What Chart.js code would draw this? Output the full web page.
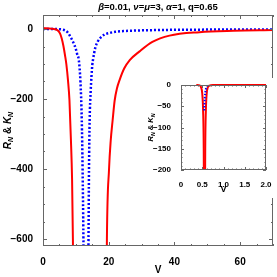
<!DOCTYPE html>
<html>
<head>
<meta charset="utf-8">
<script src="https://cdn.jsdelivr.net/npm/chart.js@4.4.1/dist/chart.umd.min.js"></script>
<style>
  body { margin: 0; background: #fff; }
  #wrap { position: relative; width: 277px; height: 277px; }
  #main { position: absolute; left: 0; top: 0; }
  #inset { position: absolute; left: 146px; top: 78px; background: #fff; }
</style>
</head>
<body>
<div id="wrap">
  <canvas id="main" width="277" height="277"></canvas>
  <canvas id="inset" width="128" height="120"></canvas>
</div>
<script>
// ---------------- data ----------------
// main plot, red solid (two branches around the pole)
var redLeftV  = [0, 1, 2, 3, 4, 4.6, 5.2, 5.7, 6.2, 6.7, 7.1, 7.6, 8.05, 8.5, 8.85, 9.1, 9.3];
var redLeftR  = [2, 2, 1.5, 0.5, -1.5, -5, -13, -27, -48, -75, -100, -146, -203, -317, -431, -600, -800];
var redRightV = [19.3, 19.45, 20.1, 20.6, 21.2, 21.8, 22.5, 23.3, 24.7, 26.4, 29.4, 33.3, 38.5, 47.6, 58, 70];
var redRightR = [-800, -600, -400, -320, -260, -205, -170, -146, -113, -89, -64, -37, -19, -9, -5, -3];
// main plot, blue dotted
var blueLeftV  = [0, 3, 5, 6, 6.9, 7.7, 8.4, 9.2, 9.9, 10.4, 10.9, 11.4, 11.8, 12.05, 12.3, 12.45];
var blueLeftR  = [0, 0, -0.5, -2, -5, -12, -23, -38, -54, -72, -89, -151, -260, -400, -600, -800];
var blueRightV = [13.65, 13.85, 14.0, 14.2, 14.5, 15.0, 15.2, 15.9, 16.6, 17.4, 18.5, 20.4, 22, 24.4, 28, 34.6, 45, 58, 70];
var blueRightR = [-800, -600, -400, -260, -180, -103, -89, -54, -37, -26, -17, -11, -8, -6, -4.5, -3, -2, -1.5, -1.2];
// inset
var insetRedLeftV  = [0.36, 0.44, 0.47, 0.5, 0.52, 0.535, 0.54];
var insetRedLeftR  = [0, -1, -5, -20, -60, -150, -260];
var insetRedRightV = [0.565, 0.57, 0.585, 0.605, 0.63, 0.67, 0.75, 2];
var insetRedRightR = [-260, -150, -60, -20, -6, -1.5, 0, 0];
var insetBlueV = [0.545, 0.56, 0.58, 0.6, 0.63, 0.66];
var insetBlueR = [-60, -30, -12, -5, -1, 0];

var mainXTicks = [0, 20, 40, 60];
var mainYTicks = [-600, -400, -200, 0];
var insetXTicks = [0, 0.5, 1, 1.5, 2];
var insetYTicks = [-200, -150, -100, -50, 0];

var FONT = '"Liberation Sans", Arial, sans-serif';
var RED = '#ff0000';
var BLUE = '#0000ff';

function pts(xs, ys) {
  return xs.map(function (x, i) { return { x: x, y: ys[i] }; });
}

function line(xs, ys, color, width, dash, order) {
  return {
    data: pts(xs, ys),
    showLine: true,
    borderColor: color,
    borderWidth: width,
    borderDash: dash || [],
    pointRadius: 0,
    cubicInterpolationMode: 'monotone',
    fill: false,
    order: order,
    clip: { left: 0, top: 3, right: 0, bottom: 0 }
  };
}

// draws a string made of plain / italic / subscript pieces
function drawRich(ctx, parts, x, y, size) {
  var w = 0;
  parts.forEach(function (p) {
    var s = p.sub ? size * 0.7 : size;
    ctx.font = (p.italic ? 'italic ' : '') + 'bold ' + s + 'px ' + FONT;
    p.w = ctx.measureText(p.t).width;
    w += p.w;
  });
  var cx = x - w / 2;
  ctx.textBaseline = 'middle';
  ctx.textAlign = 'left';
  parts.forEach(function (p) {
    var s = p.sub ? size * 0.7 : size;
    ctx.font = (p.italic ? 'italic ' : '') + 'bold ' + s + 'px ' + FONT;
    ctx.fillText(p.t, cx, p.sub ? y + size * 0.3 : y);
    cx += p.w;
  });
}

var yLabelParts = [
  { t: 'R', italic: true }, { t: 'N', italic: true, sub: true },
  { t: ' & ' },
  { t: 'K', italic: true }, { t: 'N', italic: true, sub: true }
];

// frame with inward ticks (major + minor), plus labels
var framePlugin = {
  id: 'frame',
  afterDraw: function (chart) {
    var o = chart.options.plugins.frame;
    var ctx = chart.ctx, a = chart.chartArea;
    var xs = chart.scales.x, ys = chart.scales.y;
    ctx.save();
    ctx.strokeStyle = '#666';
    ctx.lineWidth = 1;
    ctx.strokeRect(a.left + 0.5, a.top + 0.5, a.right - a.left - 1, a.bottom - a.top - 1);
    ctx.beginPath();
    var v, p, len, major;
    for (v = xs.min; v <= xs.max + 1e-9; v += o.xMinor) {
      major = o.xTicks.some(function (t) { return Math.abs(t - v) < 1e-6; });
      len = major ? o.major : o.minor;
      p = Math.round(xs.getPixelForValue(v)) + 0.5;
      ctx.moveTo(p, a.bottom); ctx.lineTo(p, a.bottom - len);
      ctx.moveTo(p, a.top); ctx.lineTo(p, a.top + len);
    }
    for (v = Math.ceil(ys.min / o.yMinor) * o.yMinor; v <= ys.max + 1e-9; v += o.yMinor) {
      major = o.yTicks.some(function (t) { return Math.abs(t - v) < 1e-6; });
      len = major ? o.major : o.minor;
      p = Math.round(ys.getPixelForValue(v)) + 0.5;
      ctx.moveTo(a.left, p); ctx.lineTo(a.left + len, p);
      ctx.moveTo(a.right, p); ctx.lineTo(a.right - len, p);
    }
    ctx.stroke();

    ctx.fillStyle = '#000';
    // y axis label, rotated
    ctx.save();
    ctx.translate(o.yLabelX, (a.top + a.bottom) / 2);
    ctx.rotate(-Math.PI / 2);
    drawRich(ctx, yLabelParts, 0, 0, o.yLabelSize);
    ctx.restore();
    // x axis label
    drawRich(ctx, [{ t: 'V' }], (a.left + a.right) / 2, o.xLabelY, o.xLabelSize);
    if (o.title) {
      drawRich(ctx, o.title, (a.left + a.right) / 2, 7, 9.5);
    }
    ctx.restore();
  }
};

function axes(xMin, xMax, xStep, yMin, yMax, yStep, yWidth, xHeight, size, pad, fmt) {
  return {
    x: {
      type: 'linear', min: xMin, max: xMax,
      grid: { display: false }, border: { display: false },
      afterFit: function (s) { s.height = xHeight; },
      ticks: { stepSize: xStep, includeBounds: false, padding: pad, maxRotation: 0, color: '#000',
               font: { family: FONT, size: size, weight: 'bold' }, callback: fmt }
    },
    y: {
      type: 'linear', min: yMin, max: yMax,
      grid: { display: false }, border: { display: false },
      afterFit: function (s) { s.width = yWidth; },
      ticks: { stepSize: yStep, includeBounds: false, padding: pad, color: '#000',
               font: { family: FONT, size: size, weight: 'bold' },
               callback: function (v) { return v < 0 ? '\u2212' + Math.abs(v) : String(v); } }
    }
  };
}

// ---------------- main chart ----------------
var mainChart = new Chart(document.getElementById('main').getContext('2d'), {
  type: 'scatter',
  data: {
    datasets: [
      line(redLeftV, redLeftR, RED, 2, null, 0),
      line(redRightV, redRightR, RED, 2, null, 0),
      line(blueLeftV, blueLeftR, BLUE, 2.5, [2, 2], 1),
      line(blueRightV, blueRightR, BLUE, 2.5, [2, 2], 1)
    ]
  },
  options: {
    responsive: false,
    animation: false,
    layout: { padding: { left: 0, right: 4, top: 15, bottom: 0 } },
    scales: axes(0, 70, 20, -620, 40, 200, 43, 31, 10, 2),
    plugins: {
      legend: { display: false },
      tooltip: { enabled: false },
      frame: {
        xTicks: mainXTicks, yTicks: mainYTicks, xMinor: 5, yMinor: 50,
        major: 4, minor: 2, yLabelX: 8, xLabelY: 270, yLabelSize: 10, xLabelSize: 10,
        title: [
          { t: '\u03b2', italic: true }, { t: '=0.01, ' },
          { t: '\u03bd', italic: true }, { t: '=' },
          { t: '\u03bc', italic: true }, { t: '=3, ' },
          { t: '\u03b1', italic: true }, { t: '=1, q=0.65' }
        ]
      }
    }
  },
  plugins: [framePlugin]
});

// ---------------- inset ----------------
var insetChart = new Chart(document.getElementById('inset').getContext('2d'), {
  type: 'scatter',
  data: {
    datasets: [
      line(insetBlueV, insetBlueR, BLUE, 2, [1.5, 1.5], 0),
      line(insetRedLeftV, insetRedLeftR, RED, 2, null, 1),
      line(insetRedRightV, insetRedRightR, RED, 2, null, 1)
    ]
  },
  options: {
    responsive: false,
    animation: false,
    layout: { padding: { left: 0, right: 8, top: 7, bottom: 0 } },
    scales: axes(0, 2, 0.5, -200, 0, 50, 35, 28, 8, 2,
                 function (v) { return v === 0 ? '0' : v.toFixed(1); }),
    plugins: {
      legend: { display: false },
      tooltip: { enabled: false },
      frame: {
        xTicks: insetXTicks, yTicks: insetYTicks, xMinor: 0.1, yMinor: 10,
        major: 3, minor: 1.5, yLabelX: 5, xLabelY: 112, yLabelSize: 7.5, xLabelSize: 9
      }
    }
  },
  plugins: [framePlugin]
});
</script>
</body>
</html>
